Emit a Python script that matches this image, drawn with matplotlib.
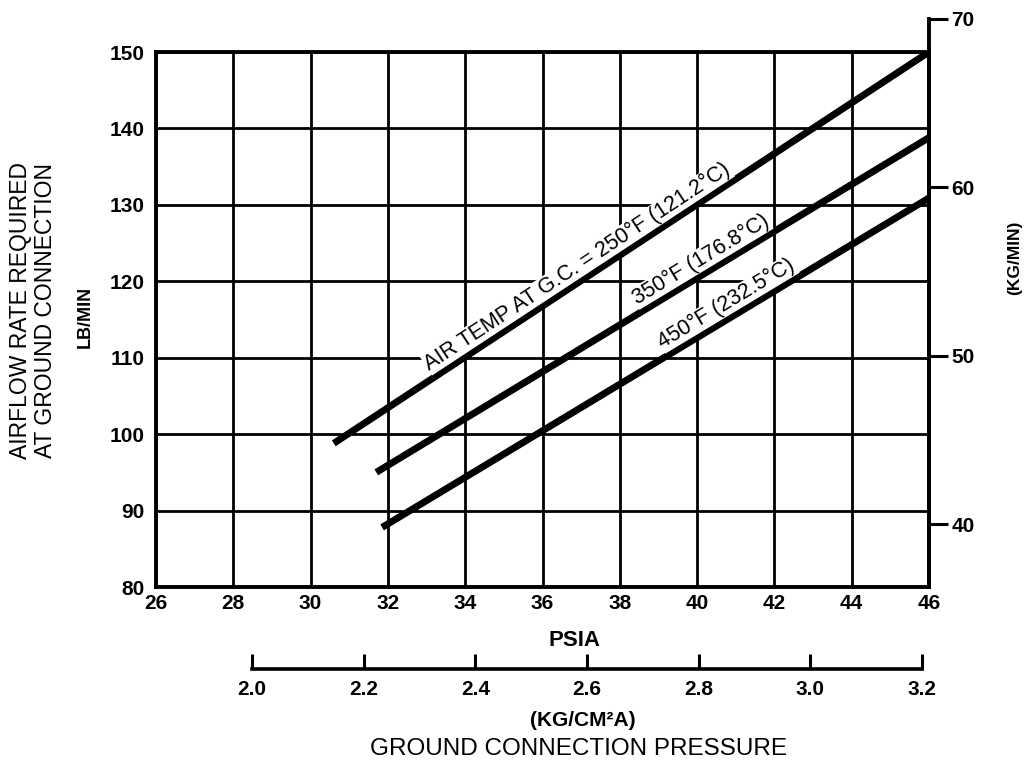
import matplotlib
matplotlib.use("Agg")
import matplotlib.pyplot as plt
import matplotlib.transforms as mtransforms
import numpy as np

plt.rcParams['font.family'] = ['Liberation Sans', 'DejaVu Sans']

# ---- data ----
psia_250 = [30.6, 46.0]
lbmin_250 = [98.8, 150.0]
psia_350 = [31.7, 46.0]
lbmin_350 = [95.0, 138.8]
psia_450 = [31.85, 46.0]
lbmin_450 = [87.8, 130.9]

label_250 = "AIR TEMP AT G.C. = 250°F (121.2°C)"
label_350 = "350°F (176.8°C)"
label_450 = "450°F (232.5°C)"
# psia at which each curve label is centred
label_x_250 = 37.1
label_x_350 = 40.28
label_x_450 = 40.95

x_ticks = [26, 28, 30, 32, 34, 36, 38, 40, 42, 44, 46]
y_ticks = [80, 90, 100, 110, 120, 130, 140, 150]
kg_ticks = [40, 50, 60, 70]
kgcm_ticks = [2.0, 2.2, 2.4, 2.6, 2.8, 3.0, 3.2]
kgcm_labels = ["2.0", "2.2", "2.4", "2.6", "2.8", "3.0", "3.2"]

KG_PER_LB = 0.45359
# kg/cm2 scale as drawn (2.0 at 28.49 psia, 3.2 at 45.82 psia)
KGCM_LIM = (1.8276, 3.2126)

W, H = 1028, 763
fig = plt.figure(figsize=(W / 100, H / 100), dpi=100)

left, right, bottom, top = 156, 929, 587, 52
ax = fig.add_axes([left / W, (H - bottom) / H, (right - left) / W, (bottom - top) / H])
ax.set_xlim(26, 46)
ax.set_ylim(80, 150)
ax.set_xticks(x_ticks)
ax.set_yticks(y_ticks)
ax.grid(True, color='black', linewidth=2.0)
for s in ax.spines.values():
    s.set_linewidth(2.8)
ax.tick_params(axis='y', length=0, labelsize=15, pad=8)
ax.tick_params(axis='x', length=0, labelsize=15, pad=5)
for lbl in ax.get_xticklabels() + ax.get_yticklabels():
    lbl.set_fontweight('bold')

lines = [(psia_250, lbmin_250, label_250, label_x_250),
         (psia_350, lbmin_350, label_350, label_x_350),
         (psia_450, lbmin_450, label_450, label_x_450)]
for xs, ys, _, _ in lines:
    ax.plot(xs, ys, color='black', linewidth=5, solid_capstyle='butt', zorder=5)

fig.canvas.draw()
offset_pt = 6.0
for xs, ys, txt, lx in lines:
    p0 = ax.transData.transform((xs[0], ys[0]))
    p1 = ax.transData.transform((xs[1], ys[1]))
    a = np.arctan2(p1[1] - p0[1], p1[0] - p0[0])
    ly = np.interp(lx, xs, ys)
    tr = ax.transData + mtransforms.ScaledTranslation(
        -np.sin(a) * offset_pt / 72, np.cos(a) * offset_pt / 72, fig.dpi_scale_trans)
    ax.text(lx, ly, txt, rotation=np.degrees(a), rotation_mode='anchor',
            ha='center', va='baseline', fontsize=15.5, zorder=6, transform=tr,
            bbox=dict(facecolor='white', edgecolor='none', pad=0.5))

ax.set_xlabel("PSIA", fontsize=16, fontweight='bold')
ax.xaxis.set_label_coords((574 - left) / (right - left), -(640 - bottom) / (bottom - top))
ax.xaxis.label.set_va('center')

# right kg/min axis (extends above main frame to 70)
main_h = (bottom - top) / H
kg_lo = 80 * KG_PER_LB
kg_top = 70
h_r = main_h * (kg_top - kg_lo) / ((150 - 80) * KG_PER_LB)
ax_r = fig.add_axes([left / W, (H - bottom) / H, (right - left) / W, h_r])
ax_r.set_facecolor('none')
ax_r.set_ylim(kg_lo, kg_top)
ax_r.set_xticks([])
for k in ['left', 'top', 'bottom']:
    ax_r.spines[k].set_visible(False)
ax_r.spines['right'].set_linewidth(2.8)
ax_r.yaxis.tick_right()
ax_r.set_yticks(kg_ticks)
ax_r.tick_params(axis='y', direction='out', length=14, width=2.2, labelsize=15, pad=2)
for lbl in ax_r.get_yticklabels():
    lbl.set_fontweight('bold')
fig.text(1015 / W, 1 - 258 / H, "(KG/MIN)", rotation=90, ha='center', va='center',
         fontsize=12.5, fontweight='bold')

# bottom kg/cm2 axis
ax_b = fig.add_axes([left / W, (H - 669) / H, (right - left) / W, 0.02])
ax_b.set_facecolor('none')
ax_b.set_xlim(*KGCM_LIM)
ax_b.set_yticks([])
for k in ['left', 'top', 'right']:
    ax_b.spines[k].set_visible(False)
ax_b.spines['bottom'].set_linewidth(2.6)
ax_b.spines['bottom'].set_bounds(kgcm_ticks[0], kgcm_ticks[-1])
ax_b.set_xticks(kgcm_ticks)
ax_b.set_xticklabels(kgcm_labels)
ax_b.tick_params(axis='x', direction='in', length=11, width=2.2, labelsize=15, pad=8)
for lbl in ax_b.get_xticklabels():
    lbl.set_fontweight('bold')

fig.text(583 / W, 1 - 721 / H, "(KG/CM²A)", ha='center', va='center',
         fontsize=15, fontweight='bold')
fig.text(578 / W, 1 - 749 / H, "GROUND CONNECTION PRESSURE", ha='center', va='center',
         fontsize=17.5)

# left labels
fig.text(33 / W, 1 - 310 / H, "AIRFLOW RATE REQUIRED\nAT GROUND CONNECTION", rotation=90,
         ha='center', va='center', fontsize=16.5, linespacing=1.12)
fig.text(85 / W, 1 - 317 / H, "LB/MIN", rotation=90, ha='center', va='center',
         fontsize=13, fontweight='bold')

fig.savefig("out.png", dpi=100)
